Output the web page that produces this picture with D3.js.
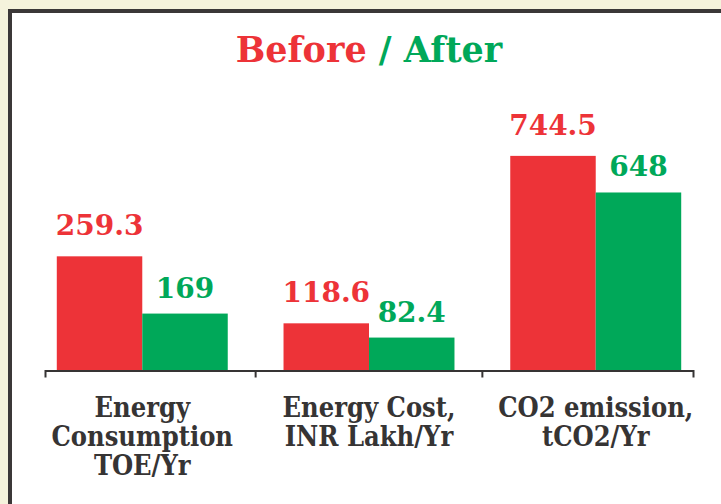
<!DOCTYPE html>
<html>
<head>
<meta charset="utf-8">
<script src="https://cdn.jsdelivr.net/npm/d3@7/dist/d3.min.js"></script>
<style>
  html, body { margin: 0; padding: 0; background: #f5f3dc; overflow: hidden; }
  svg { display: block; }
</style>
</head>
<body>
<svg id="chart"></svg>
<script>
// category labels, one entry per line
var categories = [
  ['Energy', 'Consumption', 'TOE/Yr'],
  ['Energy Cost,', 'INR Lakh/Yr'],
  ['CO2 emission,', 'tCO2/Yr']
];
var seriesNames = ['Before', 'After'];
var beforeValues = [259.3, 118.6, 744.5];
var afterValues = [169, 82.4, 648];
// every category sits on its own value axis in the original
var axisFloor = [80, 0, 180];
var axisCeil = [427, 559, 760];

var width = 721, height = 504;
var red = '#ed3338', green = '#00a859', ink = '#363434';
var yBase = 370, yTop = 150;

var svg = d3.select('#chart').attr('width', width).attr('height', height);

// frame
svg.append('rect').attr('x', 8).attr('y', 9)
  .attr('width', width).attr('height', height).attr('fill', '#3b3838');
svg.append('rect').attr('x', 12).attr('y', 13)
  .attr('width', width).attr('height', height).attr('fill', '#fff');

// title
var title = svg.append('text')
  .attr('x', 369).attr('y', 62)
  .attr('text-anchor', 'middle')
  .style('font-family', '"DejaVu Serif", serif')
  .style('font-weight', 'bold')
  .style('font-size', '35px');
title.append('tspan').attr('fill', red).text(seriesNames[0]);
title.append('tspan').attr('fill', green).text(' / ' + seriesNames[1]);

var x = d3.scaleBand()
  .domain(d3.range(categories.length))
  .range([45, 693])
  .paddingInner(0.246)
  .paddingOuter(0.052);

var xs = d3.scaleBand()
  .domain(seriesNames)
  .range([0, x.bandwidth()]);

var color = d3.scaleOrdinal().domain(seriesNames).range([red, green]);
var labelLift = {Before: 21, After: 16};

var rows = categories.map(function(c, i){
  var y = d3.scaleLinear().domain([axisFloor[i], axisCeil[i]]).range([yBase, yTop]);
  return {
    i: i,
    bars: [
      {s: 'Before', v: beforeValues[i], y: y},
      {s: 'After', v: afterValues[i], y: y}
    ]
  };
});

var groups = svg.selectAll('g.cat')
  .data(rows)
  .enter()
    .append('g')
    .attr('class', 'cat')
    .attr('transform', function(d){ return 'translate(' + x(d.i) + ',0)'; });

groups.selectAll('rect')
  .data(function(d){ return d.bars; })
  .enter()
    .append('rect')
      .attr('x', function(b){ return xs(b.s); })
      .attr('y', function(b){ return b.y(b.v); })
      .attr('width', xs.bandwidth())
      .attr('height', function(b){ return yBase - b.y(b.v); })
      .attr('fill', function(b){ return color(b.s); });

groups.selectAll('text.val')
  .data(function(d){ return d.bars; })
  .enter()
    .append('text')
      .attr('class', 'val')
      .attr('x', function(b){ return xs(b.s) + xs.bandwidth() / 2; })
      .attr('y', function(b){ return b.y(b.v) - labelLift[b.s]; })
      .attr('text-anchor', 'middle')
      .attr('fill', function(b){ return color(b.s); })
      .style('font-family', '"DejaVu Serif", serif')
      .style('font-weight', 'bold')
      .style('font-size', '28px')
      .text(function(b){ return String(b.v); });

// axis: outer ticks from the domain path, inner ticks between bands
var axis = svg.append('g')
  .attr('transform', 'translate(0,' + (yBase + 0.5) + ')')
  .call(d3.axisBottom(x).tickValues([]).tickSizeOuter(7));
axis.select('.domain').attr('stroke', ink).attr('stroke-width', 2);

var gap = x.step() * x.paddingInner() / 2;
axis.selectAll('line.sep')
  .data(d3.range(1, categories.length))
  .enter()
    .append('line')
      .attr('class', 'sep')
      .attr('x1', function(i){ return x(i) - gap; })
      .attr('x2', function(i){ return x(i) - gap; })
      .attr('y1', 0).attr('y2', 7)
      .attr('stroke', ink).attr('stroke-width', 2);

// category labels
var labels = svg.selectAll('text.cat')
  .data(rows)
  .enter()
    .append('text')
    .attr('class', 'cat')
    .attr('text-anchor', 'middle')
    .attr('fill', ink)
    .style('font-family', '"DejaVu Serif Condensed", "DejaVu Serif", serif')
    .style('font-stretch', 'condensed')
    .style('font-weight', 'bold')
    .style('font-size', '27px');

labels.selectAll('tspan')
  .data(function(d){ return categories[d.i].map(function(t){ return {t: t, i: d.i}; }); })
  .enter()
    .append('tspan')
      .attr('x', function(d){ return x(d.i) + x.bandwidth() / 2; })
      .attr('y', function(d, j){ return 417 + j * 29; })
      .text(function(d){ return d.t; });
</script>
</body>
</html>
